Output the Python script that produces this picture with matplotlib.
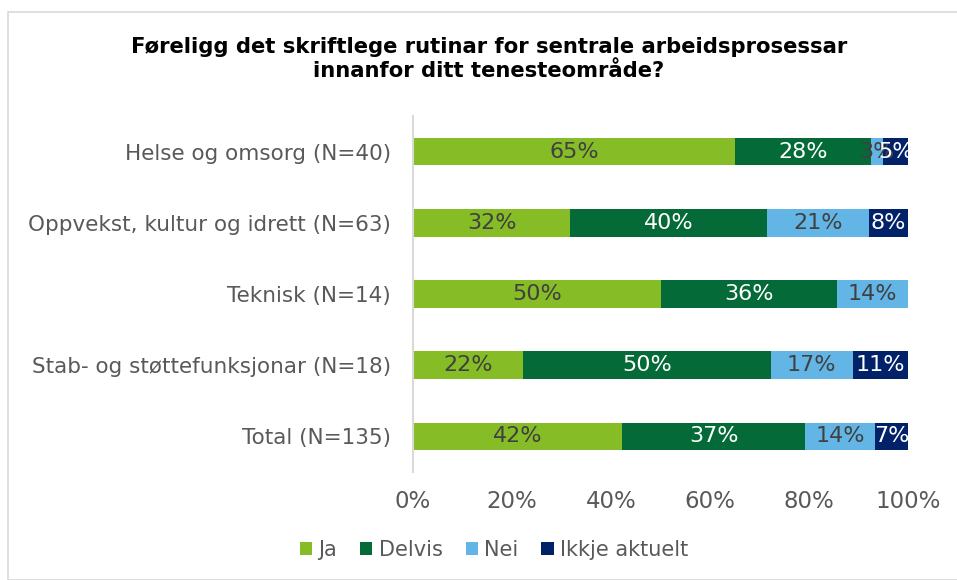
import matplotlib
matplotlib.use("Agg")
import matplotlib.pyplot as plt
from matplotlib.patches import Rectangle
import numpy as np

categories = ["Helse og omsorg (N=40)", "Oppvekst, kultur og idrett (N=63)",
              "Teknisk (N=14)", "Stab- og støttefunksjonar (N=18)", "Total (N=135)"]
series = ["Ja", "Delvis", "Nei", "Ikkje aktuelt"]
# respondent counts per category and answer
ja = [26, 20, 7, 4, 57]
delvis = [11, 25, 5, 9, 50]
nei = [1, 13, 2, 3, 19]
ikkje = [2, 5, 0, 2, 9]
xticks = [0, 20, 40, 60, 80, 100]

colors = ["#86BC25", "#046A38", "#62B5E5", "#012169"]
label_colors = ["#404040", "white", "#404040", "white"]

counts = np.array([ja, delvis, nei, ikkje], dtype=float)
totals = counts.sum(axis=0)
pcts = counts / totals * 100

fig = plt.figure(figsize=(9.57, 5.8), dpi=100)
ax = fig.add_axes([413/957, 108/580, 495/957, 356/580])

y = np.arange(len(categories))
left = np.zeros(len(categories))
for i, name in enumerate(series):
    bars = ax.barh(y, pcts[i], left=left, height=0.39, color=colors[i],
                   label=name, edgecolor="none")
    for j, p in enumerate(pcts[i]):
        if p > 0:
            ax.text(left[j] + p / 2, y[j], f"{int(p + 0.5)}%", ha="center", va="center",
                    fontsize=16, color=label_colors[i], family="DejaVu Sans")
    left += pcts[i]

ax.set_ylim(len(categories) - 0.5, -0.5)
ax.set_xlim(0, 100)
ax.set_yticks(y)
ax.set_yticklabels(categories, fontsize=15.5, color="#595959")
ax.set_xticks(xticks)
ax.set_xticklabels([f"{t}%" for t in xticks], fontsize=16.5, color="#595959")
ax.tick_params(axis="both", length=0)
ax.tick_params(axis="y", pad=16)
ax.tick_params(axis="x", pad=13)
for s in ["top", "right", "bottom"]:
    ax.spines[s].set_visible(False)
ax.spines["left"].set_color("#D9D9D9")
ax.spines["left"].set_linewidth(1.5)

fig.text(489/957, 1 - 59/580, "Føreligg det skriftlege rutinar for sentrale arbeidsprosessar\ninnanfor ditt tenesteområde?",
         ha="center", va="center", fontsize=15.2, fontweight="bold", color="black",
         linespacing=1.3)

leg = fig.legend(loc="center", bbox_to_anchor=(494/957, 1 - 550/580), ncol=4, frameon=False,
                 fontsize=15, handlelength=0.6, handleheight=0.6, handletextpad=0.3,
                 columnspacing=1.1)
for t in leg.get_texts():
    t.set_color("#595959")

fig.patches.append(Rectangle((8/957, 0), 1, 1 - 12/580, transform=fig.transFigure,
                             fill=False, edgecolor="#D9D9D9", linewidth=1.2))

fig.savefig("out.png", dpi=100)
